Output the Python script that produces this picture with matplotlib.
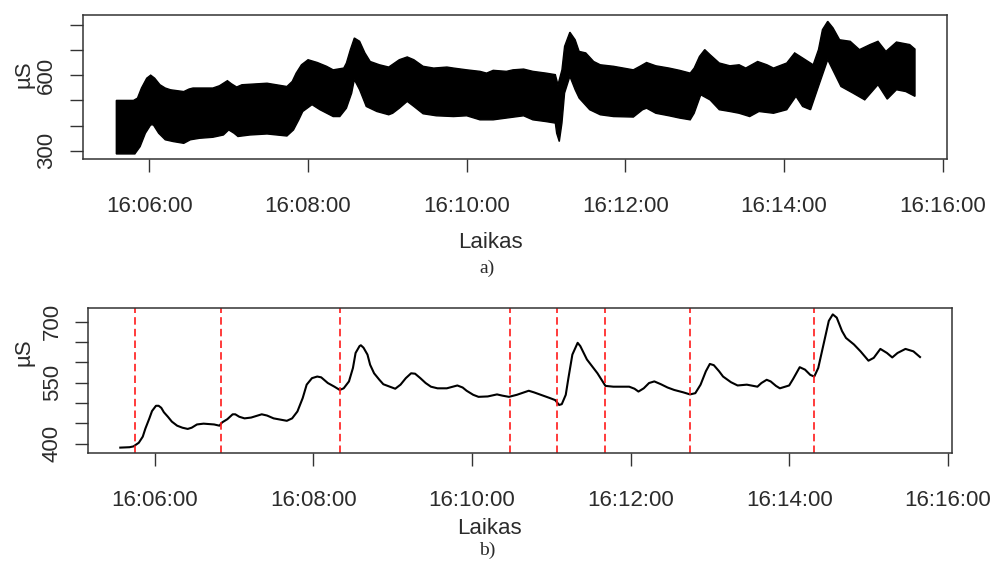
import numpy as np
import matplotlib
matplotlib.use("Agg")
import matplotlib.pyplot as plt
from matplotlib.ticker import FixedLocator, FuncFormatter

# a) raw conductance trace: dense oscillation, read as upper / lower envelope
upper_time = ["16:05:35", "16:05:48", "16:05:51", "16:05:54", "16:05:58", "16:06:01", "16:06:04",
              "16:06:08", "16:06:12", "16:06:16", "16:06:26", "16:06:30", "16:06:33", "16:06:48",
              "16:06:53", "16:06:59", "16:07:02", "16:07:06", "16:07:10", "16:07:29", "16:07:44",
              "16:07:48", "16:07:51", "16:07:55", "16:08:00", "16:08:07", "16:08:14", "16:08:19",
              "16:08:27", "16:08:29", "16:08:32", "16:08:35", "16:08:39", "16:08:43", "16:08:47",
              "16:08:54", "16:09:01", "16:09:09", "16:09:15", "16:09:20", "16:09:27", "16:09:35",
              "16:09:45", "16:09:50", "16:10:00", "16:10:10", "16:10:15", "16:10:20", "16:10:30",
              "16:10:35", "16:10:43", "16:10:50", "16:11:00", "16:11:07", "16:11:09", "16:11:12",
              "16:11:14", "16:11:18", "16:11:22", "16:11:25", "16:11:30", "16:11:36", "16:11:41",
              "16:11:51", "16:12:06", "16:12:11", "16:12:16", "16:12:23", "16:12:33", "16:12:41",
              "16:12:49", "16:12:52", "16:12:56", "16:13:00", "16:13:04", "16:13:11", "16:13:19",
              "16:13:26", "16:13:31", "16:13:40", "16:13:47", "16:13:52", "16:14:02", "16:14:08",
              "16:14:14", "16:14:22", "16:14:26", "16:14:29", "16:14:33", "16:14:37", "16:14:42",
              "16:14:50", "16:14:57", "16:15:05", "16:15:11", "16:15:17", "16:15:25", "16:15:35",
              "16:15:39"]
upper_value = [500, 500, 509, 549, 588, 600, 588,
               562, 549, 542, 535, 545, 549, 549,
               558, 578, 566, 553, 562, 568, 555,
               575, 608, 641, 661, 650, 635, 621,
               628, 648, 701, 747, 734, 688, 654,
               641, 632, 661, 672, 661, 635, 628,
               632, 628, 621, 615, 608, 619, 615,
               621, 624, 615, 608, 602, 562, 621,
               714, 770, 740, 694, 688, 654, 641,
               635, 621, 635, 650, 637, 628, 619,
               608, 628, 674, 701, 681, 648, 637,
               641, 628, 654, 641, 628, 648, 688,
               668, 641, 701, 780, 813, 787, 740,
               734, 701, 721, 734, 694, 731, 721,
               703]

lower_time = ["16:05:35", "16:05:49", "16:05:53", "16:05:57", "16:06:01", "16:06:03", "16:06:07",
              "16:06:12", "16:06:18", "16:06:26", "16:06:31", "16:06:38", "16:06:48", "16:06:56",
              "16:07:00", "16:07:04", "16:07:07", "16:07:16", "16:07:29", "16:07:44", "16:07:49",
              "16:07:53", "16:07:56", "16:08:03", "16:08:09", "16:08:19", "16:08:24", "16:08:29",
              "16:08:33", "16:08:35", "16:08:39", "16:08:44", "16:08:52", "16:09:01", "16:09:04",
              "16:09:09", "16:09:15", "16:09:20", "16:09:27", "16:09:37", "16:09:50", "16:10:00",
              "16:10:10", "16:10:20", "16:10:30", "16:10:43", "16:10:50", "16:11:00", "16:11:07",
              "16:11:08", "16:11:10", "16:11:12", "16:11:14", "16:11:18", "16:11:22", "16:11:25",
              "16:11:33", "16:11:41", "16:11:51", "16:12:06", "16:12:13", "16:12:16", "16:12:23",
              "16:12:33", "16:12:41", "16:12:49", "16:12:52", "16:12:57", "16:13:04", "16:13:11",
              "16:13:19", "16:13:26", "16:13:34", "16:13:41", "16:13:52", "16:14:02", "16:14:09",
              "16:14:14", "16:14:20", "16:14:26", "16:14:33", "16:14:38", "16:14:43", "16:14:52",
              "16:15:01", "16:15:11", "16:15:18", "16:15:25", "16:15:32", "16:15:39"]
lower_value = [288, 288, 317, 370, 403, 403, 370,
               344, 337, 330, 344, 350, 354, 363,
               383, 370, 357, 363, 367, 359, 383,
               423, 456, 483, 463, 436, 436, 469,
               529, 582, 542, 476, 456, 443, 449,
               469, 496, 476, 447, 439, 436, 439,
               423, 423, 430, 439, 423, 416, 410,
               370, 337, 410, 529, 595, 542, 509,
               463, 443, 436, 434, 463, 469, 449,
               439, 430, 423, 449, 522, 502, 463,
               456, 449, 436, 456, 449, 463, 516,
               476, 463, 555, 661, 608, 555, 529,
               502, 562, 505, 542, 535, 516]

# b) smoothed conductance
smooth_time = ["16:05:34", "16:05:41", "16:05:44", "16:05:48", "16:05:51", "16:05:53", "16:05:56",
               "16:05:58", "16:06:01", "16:06:03", "16:06:05", "16:06:07", "16:06:10", "16:06:13",
               "16:06:17", "16:06:21", "16:06:25", "16:06:28", "16:06:32", "16:06:37", "16:06:45",
               "16:06:49", "16:06:51", "16:06:55", "16:06:59", "16:07:01", "16:07:04", "16:07:08",
               "16:07:13", "16:07:18", "16:07:21", "16:07:25", "16:07:30", "16:07:35", "16:07:40",
               "16:07:44", "16:07:48", "16:07:52", "16:07:55", "16:07:59", "16:08:03", "16:08:06",
               "16:08:11", "16:08:16", "16:08:20", "16:08:23", "16:08:27", "16:08:30", "16:08:32",
               "16:08:35", "16:08:36", "16:08:38", "16:08:41", "16:08:43", "16:08:46", "16:08:50",
               "16:08:53", "16:08:58", "16:09:02", "16:09:06", "16:09:10", "16:09:14", "16:09:17",
               "16:09:21", "16:09:25", "16:09:29", "16:09:34", "16:09:41", "16:09:49", "16:09:53",
               "16:09:56", "16:10:01", "16:10:05", "16:10:12", "16:10:19", "16:10:23", "16:10:28",
               "16:10:34", "16:10:43", "16:10:47", "16:10:54", "16:10:59", "16:11:03", "16:11:06",
               "16:11:08", "16:11:11", "16:11:13", "16:11:16", "16:11:20", "16:11:22", "16:11:27",
               "16:11:35", "16:11:41", "16:11:47", "16:11:59", "16:12:03", "16:12:06", "16:12:10",
               "16:12:14", "16:12:18", "16:12:23", "16:12:28", "16:12:33", "16:12:40", "16:12:45",
               "16:12:49", "16:12:53", "16:12:57", "16:13:00", "16:13:03", "16:13:07", "16:13:10",
               "16:13:16", "16:13:21", "16:13:28", "16:13:36", "16:13:39", "16:13:43", "16:13:46",
               "16:13:50", "16:13:53", "16:14:00", "16:14:03", "16:14:08", "16:14:12", "16:14:16",
               "16:14:19", "16:14:22", "16:14:26", "16:14:30", "16:14:33", "16:14:36", "16:14:40",
               "16:14:43", "16:14:49", "16:14:54", "16:15:00", "16:15:04", "16:15:09", "16:15:14",
               "16:15:18", "16:15:22", "16:15:28", "16:15:34", "16:15:39"]
smooth_value = [390, 391, 393, 402, 417, 437, 462,
                480, 493, 493, 488, 477, 466, 454,
                444, 439, 436, 439, 447, 449, 447,
                444, 452, 460, 472, 472, 466, 462,
                464, 469, 472, 469, 462, 459, 456,
                462, 479, 512, 545, 561, 565, 563,
                549, 540, 532, 536, 553, 586, 623,
                640, 642, 636, 619, 594, 573, 557,
                546, 540, 535, 545, 561, 573, 572,
                561, 549, 540, 536, 536, 543, 538,
                530, 520, 515, 516, 521, 518, 515,
                520, 530, 526, 518, 512, 507, 495,
                497, 520, 561, 619, 648, 640, 607,
                573, 542, 540, 540, 535, 528, 536,
                549, 553, 546, 538, 532, 526, 521,
                524, 545, 578, 596, 593, 578, 565,
                551, 543, 545, 540, 549, 557, 553,
                542, 536, 543, 559, 588, 582, 569,
                565, 586, 644, 702, 718, 710, 677,
                660, 644, 627, 604, 611, 633, 623,
                612, 623, 633, 627, 613]

# event markers
event_time = ["16:05:45", "16:06:50", "16:08:20", "16:10:29",
              "16:11:04", "16:11:41", "16:12:45", "16:14:19"]

x_ticks = ["16:06:00", "16:08:00", "16:10:00", "16:12:00", "16:14:00", "16:16:00"]
top_yticks = [300, 400, 500, 600, 700, 800]
top_ylabels = ["300", "", "", "600", "", ""]
bot_yticks = [400, 450, 500, 550, 600, 650, 700]
bot_ylabels = ["400", "", "", "550", "", "", "700"]


def to_sec(t):
    h, m, s = (int(v) for v in t.split(":"))
    return h * 3600 + m * 60 + s


def fmt_time(x, pos=None):
    x = int(round(x))
    return f"{x // 3600:02d}:{(x % 3600) // 60:02d}:{x % 60:02d}"


up_t = np.array([to_sec(t) for t in upper_time])
lo_t = np.array([to_sec(t) for t in lower_time])
smooth_t = np.array([to_sec(t) for t in smooth_time])
events = [to_sec(t) for t in event_time]
xt = [to_sec(t) for t in x_ticks]

# R style 4% padding around the data range
t_min, t_max = smooth_t.min(), smooth_t.max()
pad = 0.04 * (t_max - t_min)
xlim = (t_min - pad, t_max + pad)

plt.rcParams['font.family'] = ['Liberation Sans', 'DejaVu Sans']
txt_col = '#2b2b2b'
W, H = 992, 568
fig = plt.figure(figsize=(W / 100, H / 100), dpi=100)


def style_axes(ax, yticks, ylabels):
    ax.set_xlim(*xlim)
    ax.xaxis.set_major_locator(FixedLocator(xt))
    ax.xaxis.set_major_formatter(FuncFormatter(fmt_time))
    ax.set_yticks(yticks)
    ax.set_yticklabels(ylabels)
    for sp in ax.spines.values():
        sp.set_color('#333333')
        sp.set_linewidth(1.1)
    ax.tick_params(axis='both', direction='out', length=9.5, width=1.0,
                   color='#333333', labelsize=16, labelcolor=txt_col)
    ax.tick_params(axis='x', pad=17)
    ax.tick_params(axis='y', pad=9, labelrotation=90)
    plt.setp(ax.get_yticklabels(), va='center')


# panel a
ax1 = fig.add_axes([83 / W, 1 - 159 / H, 864 / W, 144 / H])
ax1.fill(np.concatenate([up_t, lo_t[::-1]]),
         np.concatenate([upper_value, lower_value[::-1]]),
         facecolor='black', edgecolor='black', lw=1.0)
ax1.set_ylim(268, 838)
style_axes(ax1, top_yticks, top_ylabels)

# panel b
ax2 = fig.add_axes([88.3 / W, 1 - 453.3 / H, 863.7 / W, 145 / H])
ax2.plot(smooth_t, smooth_value, color='black', lw=1.5)
for e in events:
    ax2.axvline(e, color='#ff1a1a', lw=1.2, dashes=(4.5, 2.5))
ax2.set_ylim(376, 733)
style_axes(ax2, bot_yticks, bot_ylabels)

# labels
for y_lab, x_lab, y_cap, cap, y_mu in [(242.5, 490, 268, "a)", 74), (529, 489, 550, "b)", 352.5)]:
    fig.text(x_lab / W, 1 - y_lab / H, "Laikas", ha='center', va='center',
             fontsize=16, color=txt_col)
    fig.text(487 / W, 1 - y_cap / H, cap, ha='center', va='center',
             fontsize=14, color=txt_col, family='Liberation Serif')
    fig.text(24.5 / W, 1 - y_mu / H, "µS", ha='center', va='center',
             rotation=90, fontsize=16, color=txt_col)

fig.savefig("out.png", dpi=100)
